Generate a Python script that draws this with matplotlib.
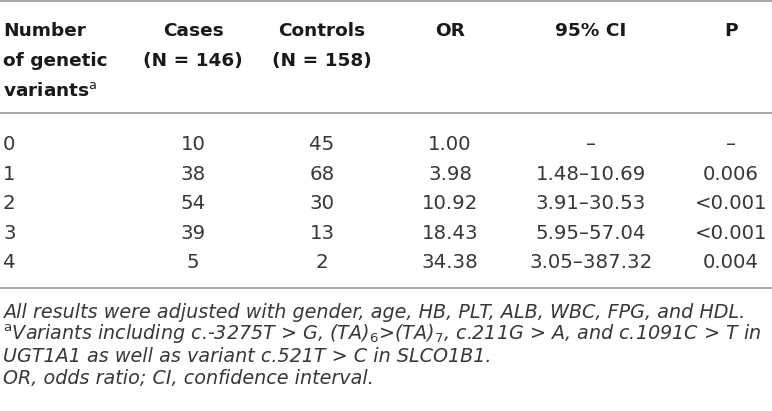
import matplotlib
matplotlib.use("Agg")
import matplotlib.pyplot as plt

plt.rcParams['font.family'] = ['DejaVu Sans']
plt.rcParams['mathtext.fontset'] = 'dejavusans'

# ---- data ----
header_cols = ["Cases\n(N = 146)", "Controls\n(N = 158)", "OR", "95% CI", "P"]
first_header = ["Number", "of genetic", "variants"]
n_variants = ["0", "1", "2", "3", "4"]
cases = [10, 38, 54, 39, 5]
controls = [45, 68, 30, 13, 2]
odds_ratio = [1.00, 3.98, 10.92, 18.43, 34.38]
ci_low = [None, 1.48, 3.91, 5.95, 3.05]
ci_high = [None, 10.69, 30.53, 57.04, 387.32]
p_values = ["–", "0.006", "<0.001", "<0.001", "0.004"]
footnotes = [
    "All results were adjusted with gender, age, HB, PLT, ALB, WBC, FPG, and HDL.",
    r"$^{\mathrm{a}}$Variants including c.-3275T > G, (TA)$_{6}$>(TA)$_{7}$, c.211G > A, and c.1091C > T in",
    "UGT1A1 as well as variant c.521T > C in SLCO1B1.",
    "OR, odds ratio; CI, confidence interval.",
]

W, H = 772, 411
fig = plt.figure(figsize=(W / 100, H / 100), dpi=100)
ax = fig.add_axes([0, 0, 1, 1])
ax.set_xlim(0, W)
ax.set_ylim(H, 0)
ax.axis('off')

line_col = '#a6a6a6'
for y in (1.2, 113.5, 288):
    ax.axhline(y, color=line_col, lw=1.4)

hdr_col = '#1a1a1a'
txt_col = '#383838'
hsize = 13.3
dsize = 14.2
col_x = [193, 322, 450, 591, 731]
x_left = 3

# header
hdr_base = [36, 66, 96]
for i, t in enumerate(first_header):
    s = t + (r"$^{\mathrm{a}}$" if i == 2 else "")
    ax.text(x_left, hdr_base[i], s, fontsize=hsize, fontweight='bold',
            color=hdr_col, ha='left', va='baseline')
for x, t in zip(col_x, header_cols):
    parts = t.split("\n")
    for j, p in enumerate(parts):
        ax.text(x, hdr_base[j], p, fontsize=hsize, fontweight='bold',
                color=hdr_col, ha='center', va='baseline')

# body
row_base = [150, 179.5, 209, 238.5, 268]
for i in range(len(n_variants)):
    y = row_base[i]
    ci = "–" if ci_low[i] is None else f"{ci_low[i]:.2f}–{ci_high[i]:.2f}"
    vals = [str(cases[i]), str(controls[i]), f"{odds_ratio[i]:.2f}", ci, p_values[i]]
    ax.text(x_left, y, n_variants[i], fontsize=dsize, color=txt_col,
            ha='left', va='baseline')
    for x, v in zip(col_x, vals):
        ax.text(x, y, v, fontsize=dsize, color=txt_col, ha='center', va='baseline')

# footnotes
fn_base = [318, 340, 362, 384]
for y, t in zip(fn_base, footnotes):
    ax.text(x_left, y, t, fontsize=13.8, style='italic', color=txt_col,
            ha='left', va='baseline')

fig.savefig("out.png", dpi=100)
